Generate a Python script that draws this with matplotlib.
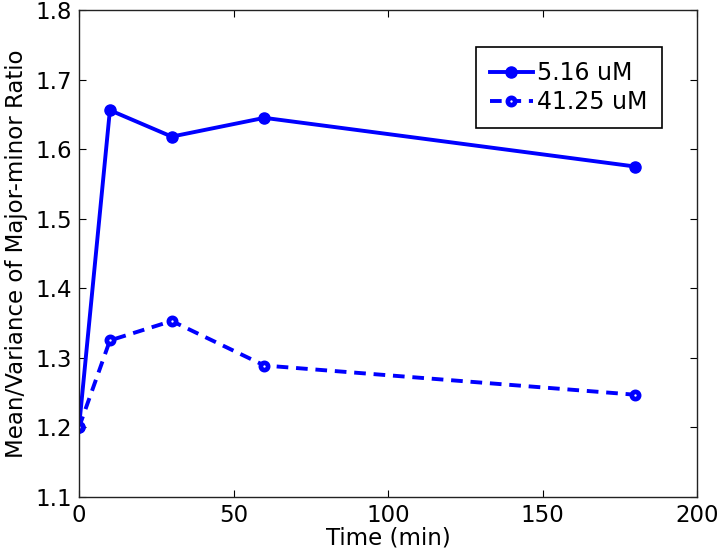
import matplotlib
matplotlib.use('Agg')
import matplotlib.pyplot as plt

time_min = [0, 10, 30, 60, 180]
low_conc = [1.200, 1.656, 1.618, 1.645, 1.575]
high_conc = [1.200, 1.325, 1.353, 1.289, 1.247]
labels = ['5.16 uM', '41.25 uM']

plt.rcParams['font.family'] = 'DejaVu Sans'
plt.rcParams['font.size'] = 16

fig = plt.figure(figsize=(7.22, 5.52), dpi=100)
ax = fig.add_axes([79 / 722, 1 - 497 / 552, 618 / 722, 487 / 552])

ax.plot(time_min, low_conc, '-o', color='#0000ff', lw=2.8, ms=8,
        label=labels[0])
ax.plot(time_min, high_conc, '--o', color='#0000ff', lw=2.8, ms=5.2,
        mfc='white', mew=3.4, dashes=(3, 2), label=labels[1])

ax.set_xlim(0, 200)
ax.set_ylim(1.1, 1.8)
ax.set_xticks([0, 50, 100, 150, 200])
ax.set_yticks([1.1, 1.2, 1.3, 1.4, 1.5, 1.6, 1.7, 1.8])
ax.tick_params(direction='in', top=True, right=True, length=5, width=0.8,
               labelsize=16.5, pad=5)
for s in ax.spines.values():
    s.set_linewidth(1.0)
    s.set_color('#222222')
ax.set_xlabel('Time (min)', fontsize=16.5, labelpad=0)
ax.set_ylabel('Mean/Variance of Major-minor Ratio', fontsize=16.5, labelpad=5)

leg = ax.legend(loc='upper right', bbox_to_anchor=(0.943, 0.924), borderaxespad=0,
                fancybox=False, edgecolor='black', framealpha=1, fontsize=17,
                handlelength=1.8, handletextpad=0.2, borderpad=0.6,
                labelspacing=0.2)
leg.get_frame().set_linewidth(1.2)

fig.savefig('out.png', dpi=100)
